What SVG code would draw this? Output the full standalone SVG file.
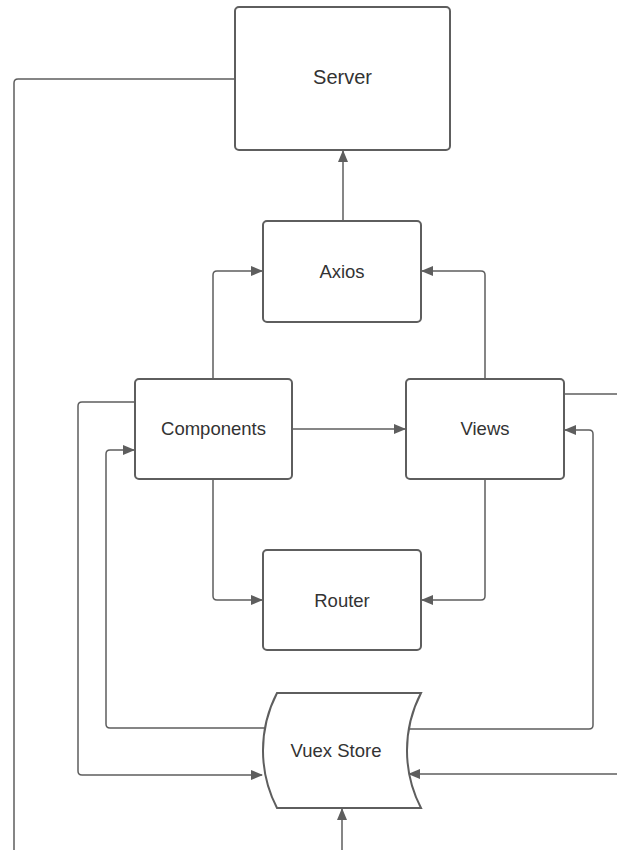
<svg xmlns="http://www.w3.org/2000/svg" width="617" height="850" viewBox="0 0 617 850">
<defs>
<marker id="ah" viewBox="0 0 12 10" refX="11" refY="5" markerWidth="12" markerHeight="10" markerUnits="userSpaceOnUse" orient="auto">
<path d="M0,0 L12,5 L0,10 Z" fill="#5e5e5e"/>
</marker>
</defs>
<style>
.box{fill:#fff;stroke:#5e5e5e;stroke-width:2}
.lbl{font-family:"Liberation Sans",Arial,sans-serif;fill:#333;text-anchor:middle;dominant-baseline:central}
.c{fill:none;stroke:#5e5e5e;stroke-width:1.5;stroke-linejoin:round}
</style>
<rect width="617" height="850" fill="#fff"/>
<g id="connectors">
<path class="c" d="M235,79 L18,79 Q14,79 14,83 L14,850"/>
<path class="c" d="M343,221 L343,151" marker-end="url(#ah)"/>
<path class="c" d="M213,379 L213,275 Q213,271 217,271 L262,271" marker-end="url(#ah)"/>
<path class="c" d="M485,379 L485,275 Q485,271 481,271 L422,271" marker-end="url(#ah)"/>
<path class="c" d="M292,429 L405,429" marker-end="url(#ah)"/>
<path class="c" d="M213,479 L213,596 Q213,600 217,600 L262,600" marker-end="url(#ah)"/>
<path class="c" d="M485,479 L485,596 Q485,600 481,600 L422,600" marker-end="url(#ah)"/>
<path class="c" d="M264,728 L110,728 Q106,728 106,724 L106,454 Q106,450 110,450 L134,450" marker-end="url(#ah)"/>
<path class="c" d="M135,402 L82,402 Q78,402 78,406 L78,771 Q78,775 82,775 L262,775" marker-end="url(#ah)"/>
<path class="c" d="M407,729 L589,729 Q593,729 593,725 L593,434 Q593,430 589,430 L565,430" marker-end="url(#ah)"/>
<path class="c" d="M564,394 L617,394"/>
<path class="c" d="M617,774 L409,774" marker-end="url(#ah)"/>
<path class="c" d="M342,850 L342,809" marker-end="url(#ah)"/>
</g>
<g id="server">
<rect class="box" x="235" y="7" width="215" height="143" rx="4"/>
<text class="lbl" x="342.5" y="77" font-size="20">Server</text>
</g>
<g id="axios">
<rect class="box" x="263" y="221" width="158" height="101" rx="4"/>
<text class="lbl" x="342" y="271" font-size="18.5">Axios</text>
</g>
<g id="components">
<rect class="box" x="135" y="379" width="157" height="100" rx="4"/>
<text class="lbl" x="213.5" y="428" font-size="18.5">Components</text>
</g>
<g id="views">
<rect class="box" x="406" y="379" width="158" height="100" rx="4"/>
<text class="lbl" x="485" y="428" font-size="18.5">Views</text>
</g>
<g id="router">
<rect class="box" x="263" y="550" width="158" height="100" rx="4"/>
<text class="lbl" x="342" y="600" font-size="18.5">Router</text>
</g>
<g id="vuex-store">
<path class="box" d="M277,693 L421,693 A125,125 0 0 0 421,808 L277,808 A125,125 0 0 1 277,693 Z"/>
<text class="lbl" x="336" y="750" font-size="18.5">Vuex Store</text>
</g>
</svg>
